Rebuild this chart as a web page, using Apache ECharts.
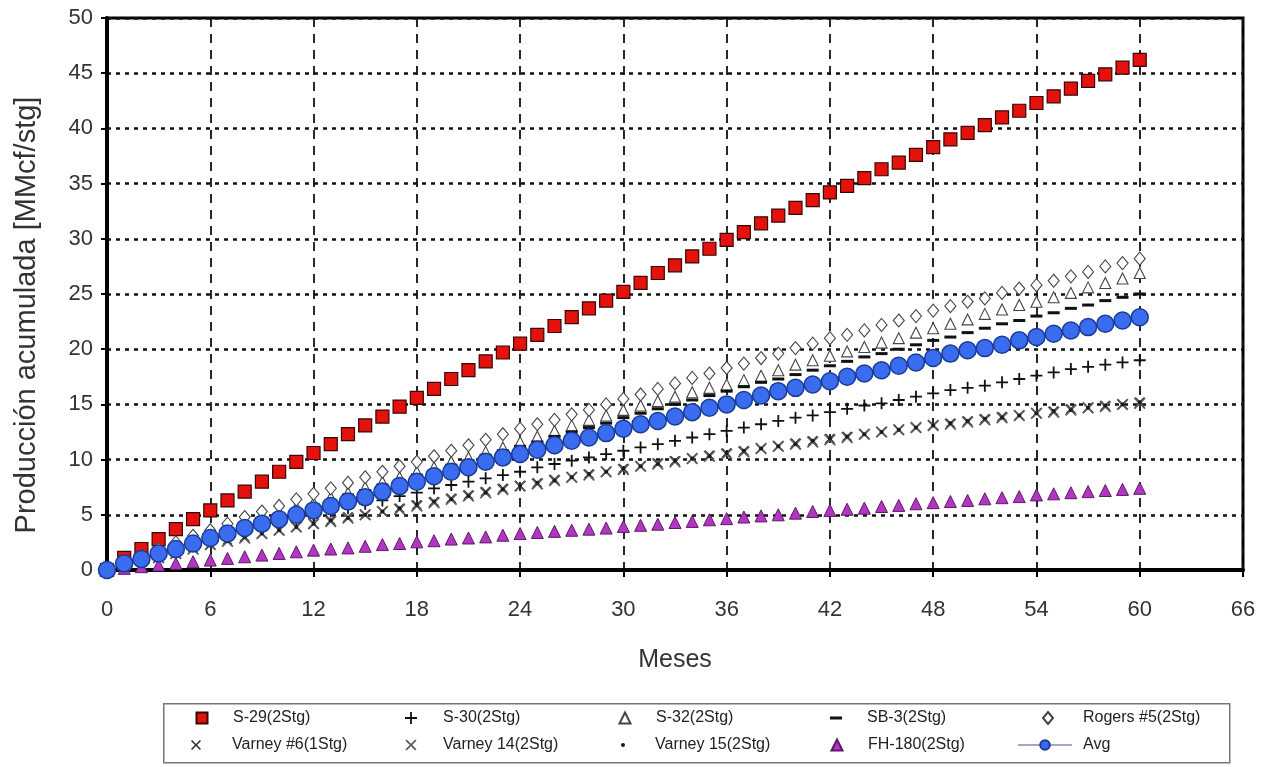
<!DOCTYPE html>
<html>
<head>
<meta charset="utf-8">
<script src="https://cdn.jsdelivr.net/npm/echarts@6/dist/echarts.min.js"></script>
<style>
  html, body { margin: 0; padding: 0; background: #ffffff; }
  #chart { width: 1266px; height: 767px; }
</style>
</head>
<body>
<div id="chart"></div>
<script>
// Months since start of production
const months = [
  0, 1, 2, 3, 4, 5, 6, 7, 8, 9,
  10, 11, 12, 13, 14, 15, 16, 17, 18, 19,
  20, 21, 22, 23, 24, 25, 26, 27, 28, 29,
  30, 31, 32, 33, 34, 35, 36, 37, 38, 39,
  40, 41, 42, 43, 44, 45, 46, 47, 48, 49,
  50, 51, 52, 53, 54, 55, 56, 57, 58, 59,
  60
];

// Cumulative production per stage [MMcf/stg], one value per month
const s29 = [
  0, 1.1, 1.9, 2.8, 3.7, 4.6, 5.4, 6.3, 7.1, 8.0,
  8.9, 9.8, 10.6, 11.4, 12.3, 13.1, 13.9, 14.8, 15.6, 16.4,
  17.3, 18.1, 18.9, 19.7, 20.5, 21.3, 22.1, 22.9, 23.7, 24.4,
  25.2, 26.0, 26.9, 27.6, 28.4, 29.1, 29.9, 30.6, 31.4, 32.1,
  32.8, 33.5, 34.2, 34.8, 35.5, 36.3, 36.9, 37.6, 38.3, 39.0,
  39.6, 40.3, 41.0, 41.6, 42.3, 42.9, 43.6, 44.3, 44.9, 45.5,
  46.2
];
const s30 = [
  0, 0.5, 0.9, 1.4, 1.8, 2.2, 2.6, 3.0, 3.4, 3.8,
  4.2, 4.5, 4.9, 5.3, 5.6, 6.0, 6.3, 6.7, 7.0, 7.4,
  7.7, 8.0, 8.3, 8.6, 8.9, 9.3, 9.6, 9.9, 10.2, 10.5,
  10.8, 11.1, 11.4, 11.7, 12.0, 12.3, 12.6, 12.9, 13.2, 13.5,
  13.8, 14.0, 14.3, 14.6, 14.9, 15.1, 15.4, 15.7, 16.0, 16.3,
  16.5, 16.7, 17.0, 17.3, 17.6, 17.9, 18.2, 18.4, 18.6, 18.8,
  19.0
];
const s32 = [
  0, 0.7, 1.2, 1.7, 2.2, 2.7, 3.2, 3.7, 4.2, 4.7,
  5.2, 5.7, 6.1, 6.6, 7.0, 7.5, 8.0, 8.4, 8.9, 9.3,
  9.8, 10.2, 10.7, 11.1, 11.6, 12.1, 12.6, 13.1, 13.6, 14.0,
  14.5, 14.9, 15.3, 15.7, 16.1, 16.5, 16.8, 17.2, 17.6, 18.1,
  18.6, 19.0, 19.4, 19.8, 20.2, 20.6, 21.0, 21.5, 21.9, 22.3,
  22.7, 23.2, 23.6, 24.0, 24.3, 24.7, 25.1, 25.6, 26.0, 26.4,
  26.9
];
const sb3 = [
  0, 0.6, 1.1, 1.6, 2.1, 2.6, 3.1, 3.6, 4.1, 4.5,
  5.0, 5.4, 5.9, 6.3, 6.8, 7.2, 7.7, 8.1, 8.6, 9.0,
  9.5, 9.9, 10.4, 10.8, 11.2, 11.6, 12.1, 12.5, 12.9, 13.3,
  13.8, 14.2, 14.6, 15.0, 15.4, 15.8, 16.2, 16.6, 17.0, 17.3,
  17.7, 18.1, 18.5, 18.9, 19.3, 19.6, 20.0, 20.4, 20.8, 21.1,
  21.5, 21.9, 22.3, 22.6, 23.0, 23.3, 23.7, 24.0, 24.4, 24.7,
  25.0
];
const rogers5 = [
  0, 0.8, 1.3, 1.9, 2.5, 3.1, 3.6, 4.2, 4.8, 5.3,
  5.8, 6.4, 6.9, 7.4, 7.9, 8.4, 8.9, 9.4, 9.8, 10.3,
  10.8, 11.3, 11.8, 12.3, 12.8, 13.2, 13.6, 14.1, 14.5, 15.0,
  15.5, 15.9, 16.4, 16.9, 17.4, 17.8, 18.3, 18.7, 19.2, 19.6,
  20.1, 20.5, 21.0, 21.3, 21.7, 22.2, 22.6, 23.0, 23.5, 23.9,
  24.3, 24.6, 25.1, 25.5, 25.8, 26.2, 26.6, 27.0, 27.5, 27.8,
  28.2
];
const varney6 = [
  0, 0.4, 0.8, 1.2, 1.6, 2.0, 2.3, 2.7, 3.0, 3.3,
  3.6, 3.9, 4.2, 4.5, 4.8, 5.0, 5.3, 5.6, 5.9, 6.2,
  6.5, 6.8, 7.1, 7.4, 7.6, 7.9, 8.2, 8.4, 8.7, 8.9,
  9.2, 9.4, 9.7, 9.9, 10.1, 10.4, 10.6, 10.8, 11.0, 11.2,
  11.5, 11.7, 11.9, 12.1, 12.3, 12.5, 12.7, 12.9, 13.1, 13.3,
  13.5, 13.7, 13.9, 14.0, 14.2, 14.4, 14.6, 14.7, 14.9, 15.0,
  15.2
];
const varney14 = [
  0, 0.4, 0.8, 1.1, 1.5, 1.9, 2.3, 2.6, 2.9, 3.3,
  3.6, 3.9, 4.2, 4.4, 4.7, 5.0, 5.3, 5.5, 5.8, 6.1,
  6.4, 6.7, 7.0, 7.3, 7.6, 7.8, 8.1, 8.4, 8.6, 8.9,
  9.1, 9.4, 9.6, 9.8, 10.1, 10.3, 10.5, 10.7, 11.0, 11.2,
  11.4, 11.6, 11.8, 12.0, 12.3, 12.5, 12.7, 12.9, 13.1, 13.2,
  13.4, 13.6, 13.8, 14.0, 14.2, 14.3, 14.5, 14.7, 14.8, 15.0,
  15.1
];
const varney15 = [
  0, 0.4, 0.8, 1.2, 1.5, 1.9, 2.3, 2.6, 3.0, 3.3,
  3.6, 3.9, 4.2, 4.5, 4.7, 5.0, 5.3, 5.6, 5.9, 6.2,
  6.4, 6.7, 7.0, 7.3, 7.6, 7.9, 8.1, 8.4, 8.7, 8.9,
  9.2, 9.4, 9.6, 9.9, 10.1, 10.3, 10.6, 10.8, 11.0, 11.2,
  11.4, 11.7, 11.9, 12.1, 12.3, 12.5, 12.7, 12.9, 13.1, 13.3,
  13.5, 13.7, 13.8, 14.0, 14.2, 14.4, 14.5, 14.7, 14.9, 15.0,
  15.2
];
const fh180 = [
  0, 0.15, 0.3, 0.45, 0.6, 0.75, 0.9, 1.05, 1.2, 1.35,
  1.5, 1.65, 1.8, 1.9, 2.0, 2.15, 2.3, 2.4, 2.55, 2.65,
  2.8, 2.9, 3.0, 3.15, 3.3, 3.4, 3.5, 3.6, 3.7, 3.8,
  3.95, 4.05, 4.15, 4.3, 4.4, 4.55, 4.65, 4.8, 4.9, 5.0,
  5.15, 5.3, 5.4, 5.5, 5.6, 5.75, 5.85, 6.0, 6.1, 6.2,
  6.3, 6.45, 6.55, 6.65, 6.8, 6.9, 7.0, 7.1, 7.2, 7.3,
  7.4
];
const avg = [
  0, 0.6, 1.0, 1.5, 1.9, 2.4, 2.9, 3.3, 3.8, 4.2,
  4.6, 5.0, 5.4, 5.8, 6.2, 6.6, 7.1, 7.6, 8.0, 8.5,
  8.9, 9.3, 9.8, 10.2, 10.5, 10.9, 11.3, 11.7, 12.0, 12.4,
  12.8, 13.2, 13.5, 13.9, 14.3, 14.7, 15.0, 15.4, 15.8, 16.2,
  16.5, 16.8, 17.1, 17.5, 17.8, 18.1, 18.5, 18.8, 19.2, 19.6,
  19.9, 20.1, 20.4, 20.8, 21.1, 21.4, 21.7, 22.0, 22.3, 22.6,
  22.9
];

const FONT = '"Liberation Sans", Arial, sans-serif';

// Marker shapes drawn as filled outlines
const PLUS = 'path://M5.1,0H6.9V5.1H12V6.9H6.9V12H5.1V6.9H0V5.1H5.1Z';
const CROSS = 'path://M0,1.3L1.3,0L6,4.7L10.7,0L12,1.3L7.3,6L12,10.7L10.7,12L6,7.3L1.3,12L0,10.7L4.7,6Z';

function pairs(values) {
  return values.map((v, i) => [months[i], v]);
}

const seriesDefs = [
  { name: 'S-29(2Stg)', data: s29, symbol: 'rect', symbolSize: 13,
    itemStyle: { color: '#e3120c', borderColor: '#3a0505', borderWidth: 1.2 } },
  { name: 'S-30(2Stg)', data: s30, symbol: PLUS, symbolSize: 12,
    itemStyle: { color: '#111111' } },
  { name: 'S-32(2Stg)', data: s32, symbol: 'triangle', symbolSize: 11,
    itemStyle: { color: '#ffffff', borderColor: '#444444', borderWidth: 1.1 } },
  { name: 'SB-3(2Stg)', data: sb3, symbol: 'rect', symbolSize: [12, 3],
    itemStyle: { color: '#111111' } },
  { name: 'Rogers #5(2Stg)', data: rogers5, symbol: 'diamond', symbolSize: [11, 13],
    itemStyle: { color: '#ffffff', borderColor: '#444444', borderWidth: 1.1 } },
  { name: 'Varney #6(1Stg)', data: varney6, symbol: CROSS, symbolSize: 10,
    itemStyle: { color: '#2e2e2e' } },
  { name: 'Varney 14(2Stg)', data: varney14, symbol: CROSS, symbolSize: 12,
    itemStyle: { color: '#5a5a5a' } },
  { name: 'Varney 15(2Stg)', data: varney15, symbol: 'circle', symbolSize: 4,
    itemStyle: { color: '#1a1a1a' } },
  { name: 'FH-180(2Stg)', data: fh180, symbol: 'triangle', symbolSize: 12,
    itemStyle: { color: '#b237c0', borderColor: '#5e1868', borderWidth: 1 } }
];

const series = seriesDefs.map(d => ({
  type: 'scatter',
  name: d.name,
  data: pairs(d.data),
  symbol: d.symbol,
  symbolSize: d.symbolSize,
  itemStyle: Object.assign({ opacity: 1 }, d.itemStyle),
  silent: true,
  z: 3
}));

series.push({
  type: 'line',
  name: 'Avg',
  data: pairs(avg),
  symbol: 'circle',
  symbolSize: 17,
  showAllSymbol: true,
  lineStyle: { color: '#a4a8bc', width: 1.5 },
  itemStyle: { color: '#3a6cf0', borderColor: '#1b3a94', borderWidth: 1.5, opacity: 1 },
  silent: true,
  z: 4
});

// Legend: two rows of five entries inside a framed box
const legendSlots = [
  { name: 'S-29(2Stg)',      cx: 201,  row: 0, w: 11, h: 11, textX: 232 },
  { name: 'S-30(2Stg)',      cx: 411,  row: 0, w: 12, h: 12, textX: 443 },
  { name: 'S-32(2Stg)',      cx: 624,  row: 0, w: 11, h: 11, textX: 655 },
  { name: 'SB-3(2Stg)',      cx: 836,  row: 0, w: 12, h: 3,  textX: 867 },
  { name: 'Rogers #5(2Stg)', cx: 1047, row: 0, w: 10, h: 12, textX: 1082 },
  { name: 'Varney #6(1Stg)', cx: 196,  row: 1, w: 10, h: 10, textX: 232 },
  { name: 'Varney 14(2Stg)', cx: 411,  row: 1, w: 11, h: 11, textX: 443 },
  { name: 'Varney 15(2Stg)', cx: 623,  row: 1, w: 4,  h: 4,  textX: 655 },
  { name: 'FH-180(2Stg)',    cx: 836,  row: 1, w: 11, h: 11, textX: 867 },
  { name: 'Avg',             cx: 1044, row: 1, w: 54, h: 12, textX: 1082 }
];
const rowY = [718, 745];
const LH = 18;

const legends = legendSlots.map(s => {
  const left = s.cx - s.w / 2;
  const pad = s.textX - (left + s.w + 5);
  return {
    data: [s.name],
    left: left,
    top: rowY[s.row] - LH / 2,
    orient: 'horizontal',
    padding: 0,
    itemWidth: s.w,
    itemHeight: s.h,
    selectedMode: false,
    textStyle: {
      fontFamily: FONT, fontSize: 16, color: '#222222',
      lineHeight: LH, padding: [0, 0, 0, pad]
    }
  };
});

const chart = echarts.init(document.getElementById('chart'), null, { renderer: 'canvas' });

chart.setOption({
  backgroundColor: '#ffffff',
  animation: false,
  textStyle: { fontFamily: FONT },
  grid: {
    left: 107, right: 23, top: 18, bottom: 197,
    show: true, borderColor: '#000000', borderWidth: 3, backgroundColor: 'transparent'
  },
  xAxis: {
    type: 'value',
    min: 0, max: 66, interval: 6,
    name: 'Meses',
    nameLocation: 'middle',
    nameGap: 78,
    nameTextStyle: { fontFamily: FONT, fontSize: 25, color: '#333333' },
    axisLine: { show: true, onZero: false, lineStyle: { color: '#000000', width: 4 } },
    axisTick: { show: true, inside: false, length: 7, lineStyle: { color: '#000000', width: 2 } },
    axisLabel: { fontFamily: FONT, fontSize: 22, color: '#333333', margin: 29 },
    splitLine: { show: true, lineStyle: { color: '#111111', width: 1.8, type: [9, 7] } }
  },
  yAxis: {
    type: 'value',
    min: 0, max: 50, interval: 5,
    name: 'Producción acumulada [MMcf/stg]',
    nameLocation: 'middle',
    nameGap: 66,
    nameTextStyle: { fontFamily: FONT, fontSize: 29, color: '#333333', padding: [0, 42, 0, 0] },
    axisLine: { show: true, onZero: false, lineStyle: { color: '#000000', width: 4 } },
    axisTick: { show: true, inside: false, length: 6, lineStyle: { color: '#000000', width: 2 } },
    axisLabel: { fontFamily: FONT, fontSize: 22, color: '#333333', margin: 14 },
    splitLine: { show: true, lineStyle: { color: '#111111', width: 2.5, type: [4, 5] } }
  },
  legend: legends,
  graphic: [{
    type: 'rect',
    left: 163, top: 703,
    shape: { width: 1066, height: 59 },
    style: { fill: '#ffffff', stroke: '#777777', lineWidth: 1.5 },
    silent: true,
    z: 0
  }],
  series: series
});
</script>
</body>
</html>
